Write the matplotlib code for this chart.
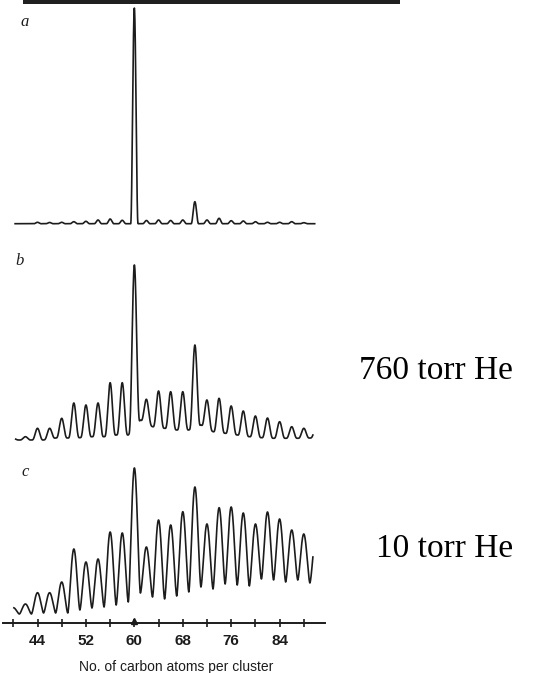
import numpy as np
import matplotlib.pyplot as plt
from matplotlib.patches import Rectangle

# # # # # # # # # # # # # # # # # # # # # # # # # # # # # # # # # # # # # #
# DATA (heights, arbitrary units above each baseline)
# # # # # # # # # # # # # # # # # # # # # # # # # # # # # # # # # # # # # #

PEAK_N = np.arange(40, 92, 2)      # even clusters C40 ... C90
VALLEY_N = np.arange(41, 91, 2)    # odd positions between the peaks

# panel a
PEAKS_A = [0.8, 0.8, 2.2, 2.0, 2.2, 2.8, 3.2, 4.5, 5.5, 4.2, 216.5, 4.0, 4.5,
           4.0, 4.5, 22.8, 4.5, 6.2, 3.8, 3.5, 2.8, 2.2, 2.2, 2.8, 1.8, 0.8]
VALLEYS_A = [0.8] * 25

# panel b, 760 torr He
PEAKS_B = [2.7, 4.3, 12.7, 12.7, 22.7, 38.0, 36.0, 38.0, 58.3, 58.3, 176.0,
           41.7, 50.0, 49.3, 49.3, 96.0, 41.0, 42.7, 35.0, 30.0, 25.0, 23.0,
           19.3, 14.3, 12.7, 12.0]
VALLEYS_B = [1.0, 1.0, 1.0, 3.0, 3.0, 3.3, 4.3, 4.3, 6.0, 6.0, 21.0, 14.3,
             12.7, 11.0, 11.0, 16.0, 9.3, 7.7, 6.0, 4.3, 3.3, 2.7, 2.7, 2.7, 3.0]

# panel c, 10 torr He
PEAKS_C = [15.0, 18.7, 30.0, 30.0, 40.7, 73.7, 60.7, 63.7, 90.7, 89.7, 154.7,
           75.7, 102.7, 97.7, 111.0, 135.7, 98.7, 115.0, 115.7, 109.7, 98.7,
           110.7, 103.7, 92.7, 88.7, 85.0]
VALLEYS_C = [8.7, 8.7, 9.7, 9.7, 9.7, 12.7, 14.7, 15.7, 17.7, 20.7, 29.7, 25.7,
             23.7, 26.7, 30.7, 35.7, 33.7, 38.7, 37.7, 36.7, 43.7, 42.7, 40.7,
             42.7, 39.7]

MAJOR_TICKS = [44, 52, 60, 68, 76, 84]
MINOR_TICKS = [40, 48, 56, 64, 72, 80, 88]
MARKED_CLUSTER = 60
XLABEL = "No. of carbon atoms per cluster"

# # # # # # # # # # # # # # # # # # # # # # # # # # # # # # # # # # # # # #
# LAYOUT
# # # # # # # # # # # # # # # # # # # # # # # # # # # # # # # # # # # # # #

W, H = 541, 673
INK = "#1c1c1c"
XLIM = (38.3, 91.5)


def px_axes(fig, x0, x1, y_top, y_bot):
    """Axes placed by pixel edges (y measured from the top)."""
    ax = fig.add_axes([x0 / W, 1 - y_bot / H, (x1 - x0) / W, (y_bot - y_top) / H])
    ax.patch.set_alpha(0)
    for s in ax.spines.values():
        s.set_visible(False)
    ax.set_xticks([])
    ax.set_yticks([])
    ax.set_xlim(*XLIM)
    return ax


def spectrum(ax, peaks, valleys, width, power, x_start, x_end):
    """Draw a trace made of one peak per even cluster over a slowly varying base."""
    x = np.linspace(x_start, x_end, 3000)
    y = np.interp(x, VALLEY_N, valleys)
    for n, h in zip(PEAK_N, peaks):
        amp = h - np.interp(n, VALLEY_N, valleys)
        d = np.abs(x - n)
        y = y + np.where(d < width, amp * np.cos(np.pi * d / (2 * width)) ** power, 0)
    ax.plot(x, y, color=INK, lw=1.2, solid_joinstyle="round")


fig = plt.figure(figsize=(W / 100, H / 100), dpi=100)

# dark strip cut off at the top of the scan
fig.patches.append(Rectangle((22.5 / W, 1 - 4 / H), (400 - 22.5) / W, 4 / H,
                             transform=fig.transFigure, color="#202020", lw=0))

ax_a = px_axes(fig, 3, 325, 5, 229.5)
ax_a.set_ylim(-5, 219.5)
spectrum(ax_a, PEAKS_A, VALLEYS_A, 0.6, 2, 40.3, 89.8)

ax_b = px_axes(fig, 3, 325, 255, 446)
ax_b.set_ylim(-5, 186)
spectrum(ax_b, PEAKS_B, VALLEYS_B, 0.9, 2.5, 40.4, 89.5)

ax_c = px_axes(fig, 3, 325, 460, 622.7)
ax_c.set_ylim(0, 162.7)
spectrum(ax_c, PEAKS_C, VALLEYS_C, 1.0, 1.6, 40.1, 89.5)

ax_c.spines["bottom"].set_visible(True)
ax_c.spines["bottom"].set_color(INK)
ax_c.spines["bottom"].set_linewidth(1.4)
ax_c.set_xticks(MAJOR_TICKS)
ax_c.set_xticks(MINOR_TICKS, minor=True)
ax_c.set_xticklabels([str(t) for t in MAJOR_TICKS], family="Liberation Sans",
                     fontsize=11, fontweight="bold", color=INK)
ax_c.tick_params(axis="x", which="both", direction="inout", length=6, width=1.2,
                 color=INK, pad=5)
ax_c.plot([MARKED_CLUSTER], [1.5], marker="^", ms=5, color=INK, clip_on=False)

# panel letters
for letter, (px, py) in zip("abc", [(25, 22), (20, 261), (25, 472)]):
    fig.text(px / W, 1 - py / H, letter, family="Liberation Serif", style="italic",
             fontsize=12, ha="center", va="center", color=INK)

fig.text(176 / W, 1 - 667 / H, XLABEL, family="Liberation Sans", fontsize=10,
         ha="center", va="center", color=INK)

fig.text(513 / W, 1 - 371 / H, "760 torr He", family="Liberation Serif",
         fontsize=24, ha="right", va="center", color="black")
fig.text(513 / W, 1 - 549 / H, "10 torr He", family="Liberation Serif",
         fontsize=24, ha="right", va="center", color="black")

fig.savefig("out.png", dpi=100)
